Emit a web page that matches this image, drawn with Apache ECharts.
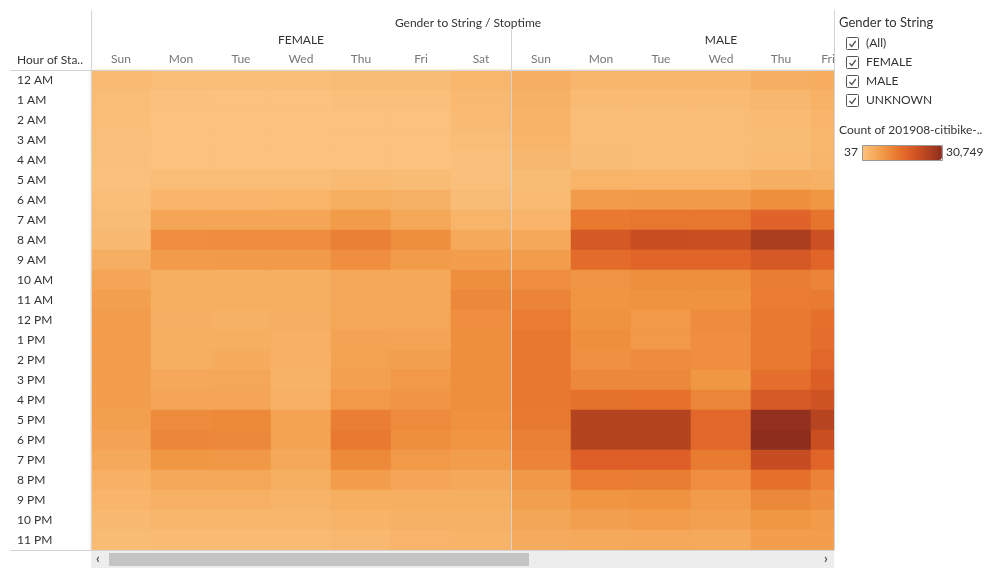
<!DOCTYPE html>
<html>
<head>
    <meta charset="UTF-8">
    <title>Gender to String / Stoptime</title>
    <script src="https://cdn.jsdelivr.net/npm/echarts@6/dist/echarts.min.js"></script>
</head>
<body style="margin:0;background:#fff">
<div id="main" style="width: 999px;height:580px;"></div>
<script type="text/javascript">
    // 行：小时 / 列：星期
    var hours = ['12 AM', '1 AM', '2 AM', '3 AM', '4 AM', '5 AM', '6 AM', '7 AM', '8 AM', '9 AM', '10 AM', '11 AM',
        '12 PM', '1 PM', '2 PM', '3 PM', '4 PM', '5 PM', '6 PM', '7 PM', '8 PM', '9 PM', '10 PM', '11 PM'];
    var days = ['Sun', 'Mon', 'Tue', 'Wed', 'Thu', 'Fri', 'Sat'];

    // FEMALE, 每天 24 小时
    var fSun = [1800, 1300, 1000, 800, 700, 600, 1000, 1400, 2100, 4000, 5900, 7000, 7400, 7500, 7500, 7400, 7300, 7100, 6300, 5200, 3800, 2800, 2100, 1500];
    var fMon = [1200, 500, 300, 250, 400, 1200, 2800, 5800, 10000, 7600, 4200, 4100, 4000, 4300, 4300, 5300, 6000, 10400, 11200, 8600, 5400, 3900, 2600, 1900];
    var fTue = [1100, 450, 300, 250, 350, 1200, 2800, 6000, 10100, 8000, 4200, 4100, 3700, 4200, 4700, 5600, 6000, 10700, 11000, 8400, 5500, 3900, 2700, 1700];
    var fWed = [1100, 450, 300, 250, 350, 1200, 2900, 5900, 10100, 8100, 4200, 4200, 4000, 3800, 3800, 3500, 3900, 6400, 6400, 5400, 4200, 3300, 2700, 1800];
    var fThu = [1400, 800, 400, 350, 400, 1600, 4100, 7700, 12200, 10000, 5400, 5400, 5500, 6300, 6500, 6700, 8300, 12300, 13200, 10700, 7400, 4200, 3300, 2300];
    var fFri = [1400, 800, 400, 350, 400, 1500, 3700, 5600, 9800, 7700, 5400, 5400, 5600, 6200, 7000, 8200, 8900, 10600, 9800, 8200, 5800, 4200, 3600, 3000];
    var fSat = [2500, 2100, 1700, 1300, 900, 900, 1400, 3100, 5200, 7200, 9800, 11000, 10000, 9800, 9800, 9800, 9800, 9600, 9000, 7400, 5300, 4200, 3700, 3300];

    // MALE (Sat 在滚动区域外，看不到)
    var mSun = [4000, 3700, 3300, 2900, 2400, 1500, 1700, 3000, 5300, 7500, 10000, 11600, 12800, 13300, 13400, 13300, 13300, 13100, 12200, 11500, 8500, 7000, 5700, 4800];
    var mMon = [2700, 1700, 1300, 1300, 1400, 2900, 7600, 13200, 19500, 15500, 9100, 9000, 9300, 9800, 9500, 10900, 14500, 25300, 25300, 18000, 12700, 9000, 7000, 5000];
    var mTue = [2600, 1700, 1300, 1200, 1200, 2900, 8000, 13800, 22200, 16800, 9800, 9300, 8300, 8300, 10300, 11000, 14600, 25300, 25300, 18000, 12600, 9300, 7500, 5400];
    var mWed = [2700, 1700, 1300, 1200, 1200, 2900, 8000, 13700, 22000, 16800, 9800, 9300, 10300, 10000, 10000, 8600, 11400, 16500, 16500, 12900, 10000, 7600, 6700, 5200];
    var mThu = [4000, 2400, 1700, 1500, 1600, 4000, 9800, 17000, 26500, 19600, 12600, 12700, 13000, 13000, 13000, 15000, 19300, 29800, 30749, 22600, 14800, 11000, 8600, 7200];
    var mFri = [4400, 3500, 2800, 2500, 2600, 3700, 8600, 14200, 21500, 16800, 11600, 12900, 14900, 15300, 16400, 18200, 21000, 25000, 22000, 16800, 11800, 9700, 7700, 7200];

    var countMin = 37;
    var countMax = 30749;
    var genders = ['(All)', 'FEMALE', 'MALE', 'UNKNOWN'];

    function toCells(cols) {
        var out = [];
        cols.forEach(function (col, x) {
            col.forEach(function (v, y) {
                out.push([x, y, v]);
            });
        });
        return out;
    }

    var femaleData = toCells([fSun, fMon, fTue, fWed, fThu, fFri, fSat]);
    var maleData = toCells([mSun, mMon, mTue, mWed, mThu, mFri]);

    var font = 'Lato, "Open Sans", sans-serif';
    var myChart = echarts.init(document.getElementById('main'));

    // 右侧筛选面板 + 滚动条 + 分隔线
    var graphics = [
        {type: 'line', shape: {x1: 10, y1: 70.5, x2: 834, y2: 70.5}, style: {stroke: '#d4d4d4', lineWidth: 1}, z: 20},
        {type: 'line', shape: {x1: 10, y1: 550.5, x2: 834, y2: 550.5}, style: {stroke: '#d4d4d4', lineWidth: 1}, z: 20},
        {type: 'line', shape: {x1: 91.5, y1: 10, x2: 91.5, y2: 550}, style: {stroke: '#d4d4d4', lineWidth: 1}, z: 20},
        {type: 'line', shape: {x1: 511.5, y1: 30, x2: 511.5, y2: 550}, style: {stroke: '#d4d4d4', lineWidth: 1}, z: 20},
        {type: 'rect', shape: {x: 835, y: 0, width: 164, height: 580}, style: {fill: '#fff'}, z: 50},
        {type: 'line', shape: {x1: 834.5, y1: 10, x2: 834.5, y2: 550}, style: {stroke: '#d4d4d4', lineWidth: 1}, z: 60},
        {type: 'text', left: 17, top: 54, style: {text: 'Hour of Sta..', fill: '#333', font: '12px ' + font}, z: 60},
        // 滚动条
        {type: 'rect', shape: {x: 91, y: 551, width: 743, height: 17}, style: {fill: '#ededed'}, z: 60},
        {type: 'rect', shape: {x: 109, y: 553, width: 420, height: 13}, style: {fill: '#c4c4c4'}, z: 61},
        {type: 'text', x: 96, y: 552, style: {text: '‹', fill: '#555', font: 'bold 13px ' + font}, z: 61},
        {type: 'text', x: 824, y: 552, style: {text: '›', fill: '#555', font: 'bold 13px ' + font}, z: 61},
        // 面板标题
        {type: 'text', x: 839, y: 16, style: {text: 'Gender to String', fill: '#333', font: '13px ' + font}, z: 60},
        {type: 'text', x: 839, y: 124, style: {text: 'Count of 201908-citibike-..', fill: '#333', font: '12px ' + font}, z: 60},
        {type: 'rect', shape: {x: 862.5, y: 145.5, width: 80, height: 15}, style: {fill: 'none', stroke: '#999', lineWidth: 1}, z: 110}
    ];
    genders.forEach(function (g, i) {
        var cy = 44 + i * 19;
        graphics.push({type: 'rect', shape: {x: 846.5, y: cy - 6.5, width: 12, height: 12, r: 1}, style: {fill: '#fff', stroke: '#555', lineWidth: 1}, z: 60});
        graphics.push({type: 'polyline', shape: {points: [[849.5, cy], [851.8, cy + 2.5], [855.8, cy - 3]]}, style: {stroke: '#555', lineWidth: 1.3, fill: null}, z: 61});
        graphics.push({type: 'text', x: 866, y: cy - 7, style: {text: g, fill: '#333', font: '12px ' + font}, z: 60});
    });

    var option = {
        backgroundColor: '#fff',
        textStyle: {fontFamily: font},
        title: {
            text: 'Gender to String / Stoptime',
            left: 463,
            top: 12,
            textAlign: 'center',
            textStyle: {fontSize: 12, fontWeight: 'normal', color: '#333', fontFamily: font}
        },
        grid: [
            {left: 91, top: 70, width: 420, height: 480},
            {left: 511, top: 70, width: 420, height: 480}
        ],
        xAxis: [
            {
                gridIndex: 0, type: 'category', position: 'top', data: days,
                axisLine: {show: false}, axisTick: {show: false},
                axisLabel: {color: '#777', fontSize: 12, margin: 5},
                name: 'FEMALE', nameLocation: 'middle', nameGap: 24,
                nameTextStyle: {color: '#333', fontSize: 12}
            },
            {
                gridIndex: 1, type: 'category', position: 'top', data: days,
                axisLine: {show: false}, axisTick: {show: false},
                axisLabel: {
                    color: '#777', fontSize: 12, margin: 5,
                    formatter: function (v) { return v === 'Fri' ? '{fri|Fri}' : v; },
                    rich: {fri: {color: '#777', fontSize: 12, padding: [0, 26, 0, 0]}}
                },
                name: 'MALE', nameLocation: 'middle', nameGap: 24,
                nameTextStyle: {color: '#333', fontSize: 12}
            }
        ],
        yAxis: [
            {
                gridIndex: 0, type: 'category', data: hours, inverse: true,
                axisLine: {show: false}, axisTick: {show: false},
                axisLabel: {color: '#333', fontSize: 12, align: 'left', margin: 74}
            },
            {
                gridIndex: 1, type: 'category', data: hours, inverse: true,
                axisLine: {show: false}, axisTick: {show: false}, axisLabel: {show: false}
            }
        ],
        visualMap: {
            type: 'continuous',
            seriesIndex: [0, 1],
            min: countMin,
            max: countMax,
            orient: 'horizontal',
            left: 829,
            top: 130,
            itemWidth: 15,
            itemHeight: 80,
            calculable: false,
            text: ['30,749', '37'],
            textGap: 4,
            textStyle: {color: '#333', fontSize: 12, fontFamily: font},
            inRange: {
                color: ['#fbc380', '#f6ad5f', '#f09643', '#e8792f', '#df6128', '#c94f21', '#ad3f20', '#8d2d1e']
            },
            z: 100
        },
        series: [
            {
                type: 'heatmap', xAxisIndex: 0, yAxisIndex: 0, data: femaleData,
                itemStyle: {borderWidth: 0}, emphasis: {disabled: true}
            },
            {
                type: 'heatmap', xAxisIndex: 1, yAxisIndex: 1, data: maleData,
                itemStyle: {borderWidth: 0}, emphasis: {disabled: true}
            }
        ],
        graphic: graphics
    };

    myChart.setOption(option);
</script>
</body>
</html>
